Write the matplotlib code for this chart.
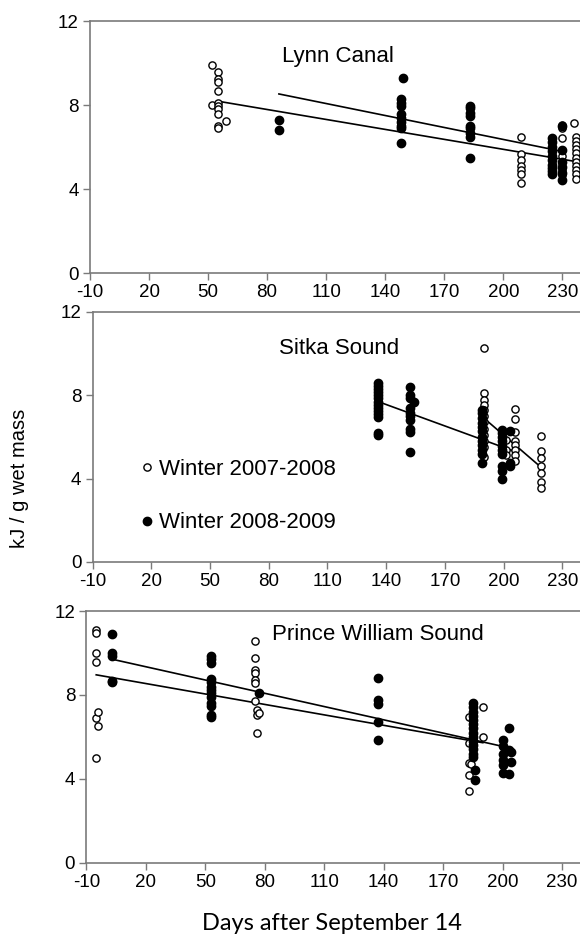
import matplotlib.pyplot as plt
import numpy as np

plt.rcParams['font.family'] = ['Liberation Sans', 'DejaVu Sans']
plt.rcParams['axes.unicode_minus'] = False

# --- data: day -> list of energy density values (kJ / g wet mass) ---
# open circles = winter 2007-2008, filled = winter 2008-2009
lynn_open_days = [52, 55, 59, 209, 230, 236, 237]
lynn_open_vals = [
    [9.9, 8.0],
    [9.55, 9.25, 9.1, 8.65, 8.1, 7.95, 7.8, 7.55, 7.0, 6.9],
    [7.25],
    [6.5, 5.65, 5.4, 5.1, 4.9, 4.7, 4.3],
    [7.05, 6.9, 6.45, 5.55, 4.9, 4.65],
    [7.15],
    [6.5, 6.3, 6.1, 5.9, 5.7, 5.5, 5.3, 5.1, 4.9, 4.7, 4.5],
]
lynn_filled_days = [86, 148, 149, 183, 225, 230]
lynn_filled_vals = [
    [7.3, 6.8],
    [8.3, 8.1, 7.95, 7.55, 7.4, 7.2, 7.0, 6.9, 6.2],
    [9.3],
    [7.95, 7.85, 7.6, 7.5, 7.0, 6.9, 6.65, 6.5, 5.5],
    [6.45, 6.25, 6.0, 5.8, 5.55, 5.4, 5.15, 5.0, 4.85, 4.7],
    [7.0, 5.85, 5.3, 5.05, 4.75, 4.45],
]

sitka_open_days = [190, 201, 206, 219]
sitka_open_vals = [
    [10.25, 8.1, 7.8, 7.55, 7.3, 7.0, 6.7, 6.4, 6.1, 5.8, 5.5, 5.05],
    [5.85, 5.4, 5.15],
    [7.35, 6.85, 6.25, 5.8, 5.6, 5.4, 5.15, 4.85],
    [6.05, 5.35, 5.0, 4.6, 4.25, 3.85, 3.55],
]
sitka_filled_days = [136, 152, 154, 189, 199, 203]
sitka_filled_vals = [
    [8.6, 8.45, 8.3, 8.15, 8.0, 7.85, 7.7, 7.55, 7.4, 7.25, 7.1, 6.95, 6.2, 6.1],
    [8.4, 8.0, 7.85, 7.4, 7.15, 7.0, 6.8, 6.4, 6.25, 5.3],
    [7.7],
    [7.3, 7.15, 6.9, 6.65, 6.5, 6.3, 6.0, 5.8, 5.6, 5.4, 5.2, 4.75],
    [6.35, 6.2, 6.0, 5.8, 5.55, 5.4, 5.2, 4.6, 4.35, 4.0],
    [6.3, 4.75, 4.6],
]

pws_open_days = [-5, -4, 75, 76, 77, 183, 184, 190]
pws_open_vals = [
    [11.1, 10.95, 10.0, 9.55, 6.9, 5.0],
    [7.2, 6.5],
    [10.55, 9.75, 9.2, 9.05, 8.7, 8.55, 7.7],
    [7.3, 7.05, 6.2],
    [7.15],
    [6.95, 5.7, 4.75, 4.2, 3.4],
    [4.7],
    [7.4, 6.0],
]
pws_filled_days = [3, 53, 77, 137, 185, 186, 200, 203, 204]
pws_filled_vals = [
    [10.9, 10.0, 9.85, 8.65, 8.6],
    [9.85, 9.7, 9.5, 8.75, 8.6, 8.4, 8.25, 8.1, 7.9, 7.6, 7.45, 7.05, 6.95],
    [8.1],
    [8.8, 7.75, 7.55, 6.7, 5.85],
    [7.6, 7.4, 7.2, 7.0, 6.8, 6.6, 6.4, 6.2, 6.0, 5.8, 5.6, 5.4, 5.2, 5.05],
    [4.4, 3.95],
    [5.85, 5.55, 5.2, 4.9, 4.65, 4.3],
    [6.4, 5.35, 4.25],
    [5.3, 4.8],
]

# regression lines: (intercept, slope, first day, last day)
lynn_fits = [(9.05, -0.0158, 55, 240), (10.16, -0.019, 86, 230)]
sitka_fits = [(22.25, -0.0808, 190, 219), (12.36, -0.0343, 137, 204)]
pws_fits = [(8.874, -0.0166, -5, 190), (9.765, -0.0211, 3, 203)]

titles = ["Lynn Canal", "Sitka Sound", "Prince William Sound"]
title_pos = [(116, 10.33), (116, 10.26), (137, 10.86)]

x_ticks = list(range(-10, 231, 30))
y_ticks = [0, 4, 8, 12]


def expand(days, vals):
    x = np.concatenate([[d] * len(v) for d, v in zip(days, vals)])
    y = np.concatenate(vals)
    return x, y


fig = plt.figure(figsize=(5.8, 9.34), dpi=100)

# panel boxes in figure pixels: left, top, bottom (right runs off the edge)
boxes = [(90, 21, 273), (92.6, 312, 562), (86.3, 611, 862.7)]
W, H = 580, 934

panels = [
    (lynn_open_days, lynn_open_vals, lynn_filled_days, lynn_filled_vals, lynn_fits),
    (sitka_open_days, sitka_open_vals, sitka_filled_days, sitka_filled_vals, sitka_fits),
    (pws_open_days, pws_open_vals, pws_filled_days, pws_filled_vals, pws_fits),
]

gray = '#7a7a7a'

for i, (od, ov, fd, fv, fits) in enumerate(panels):
    left, top, bottom = boxes[i]
    ax = fig.add_axes([left / W, 1 - bottom / H, (W - left) / W, (bottom - top) / H])

    # --- fit lines ---
    for b0, b1, xa, xb in fits:
        xs = np.array([xa, xb])
        ax.plot(xs, b0 + b1 * xs, color='black', linewidth=1.2, zorder=2)

    # --- points ---
    ox, oy = expand(od, ov)
    fx, fy = expand(fd, fv)
    h_open, = ax.plot(ox, oy, 'o', markersize=5.2, markerfacecolor='white',
                      markeredgecolor='black', markeredgewidth=1.0, zorder=3,
                      label="Winter 2007-2008")
    h_fill, = ax.plot(fx, fy, 'o', markersize=6, color='black', zorder=3,
                      label="Winter 2008-2009")

    ax.text(title_pos[i][0], title_pos[i][1], titles[i], fontsize=16,
            ha='center', va='center')

    ax.set_xlim(-10, 239)
    ax.set_ylim(0, 12)
    ax.set_xticks(x_ticks)
    ax.set_yticks(y_ticks)
    ax.tick_params(labelsize=13.5, length=5, width=1, color=gray, direction='out', pad=3)
    ax.spines['right'].set_visible(False)
    for s in ['left', 'top', 'bottom']:
        ax.spines[s].set_color(gray)
        ax.spines[s].set_linewidth(1.2)

    if i == 1:
        ax.legend(handles=[h_open, h_fill], loc='center left',
                  bbox_to_anchor=(0.1, 0.2625), frameon=False, fontsize=16,
                  handlelength=0.5, handletextpad=0.3, borderpad=0,
                  borderaxespad=0, labelspacing=1.45)

fig.text(20 / W, 1 - 478 / H, "kJ / g wet mass", rotation=90, fontsize=14.5,
         ha='center', va='center')
fig.text(332 / W, 1 - 923 / H, "Days after September 14", fontsize=17,
         family=['Lato', 'DejaVu Sans'], ha='center', va='center')

fig.savefig("out.png", dpi=100)
